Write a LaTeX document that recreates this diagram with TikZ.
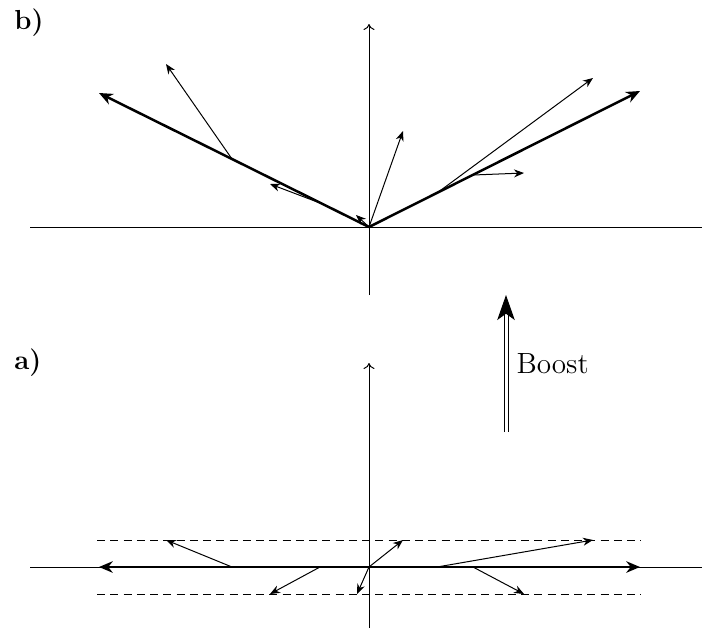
\documentclass[tikz,border=0pt]{standalone}
\usetikzlibrary{arrows.meta}
\begin{document}
\begin{tikzpicture}[x=0.4pt,y=-0.4pt,
  axisline/.style={line width=0.4pt,-{To[length=2.4pt,width=4.4pt]}},
  plainline/.style={line width=0.4pt},
  boldvec/.style={line width=1pt,-{Stealth[length=5.5pt,width=4.6pt]}},
  thinvec/.style={line width=0.4pt,-{Stealth[length=4pt,width=3.2pt]}},
  dashline/.style={line width=0.4pt,dash pattern=on 3.2pt off 2.1pt},
  boostarrow/.style={line width=0.4pt,double distance=1.2pt,-{Stealth[length=10pt,width=7pt,inset=2.5pt]}},
  lbl/.style={inner sep=0pt,font=\fontsize{11}{13}\selectfont}
]
\useasboundingbox (0,0) rectangle (702,629);
% ---------- panel b ----------
\node[lbl] (labb) at (29,23) {\textbf{b)}};
\coordinate (Ob) at (369,227);
\coordinate (bxl) at (30,227);
\coordinate (bxr) at (702,227);
\coordinate (byb) at (369,295);
\coordinate (byt) at (369,24);
\draw[plainline] (bxl) -- (bxr);
\draw[axisline] (byb) -- (byt);
\coordinate (bL) at (99,93);
\coordinate (bR) at (640,91);
\draw[boldvec] (Ob) -- (bL);
\draw[boldvec] (Ob) -- (bR);
\coordinate (b1s) at (232,159); \coordinate (b1e) at (166,64);
\coordinate (b2s) at (320,203); \coordinate (b2e) at (270,184);
\coordinate (b3e) at (356,215);
\coordinate (b4e) at (403,131);
\coordinate (b5s) at (437,193); \coordinate (b5e) at (593,78);
\coordinate (b6s) at (473,175); \coordinate (b6e) at (524,173);
\draw[thinvec] (b1s) -- (b1e);
\draw[thinvec] (b2s) -- (b2e);
\draw[thinvec] (Ob) -- (b3e);
\draw[thinvec] (Ob) -- (b4e);
\draw[thinvec] (b5s) -- (b5e);
\draw[thinvec] (b6s) -- (b6e);
% ---------- boost ----------
\coordinate (bst) at (506,432);
\coordinate (bsh) at (506,295);
\draw[boostarrow] (bst) -- (bsh);
\node[lbl,anchor=west,font=\fontsize{11.7}{14}\selectfont] (boost) at (516,364) {Boost};
% ---------- panel a ----------
\node[lbl] (laba) at (28,363) {\textbf{a)}};
\coordinate (Oa) at (369,567);
\coordinate (axl) at (30,567);
\coordinate (axr) at (702,567);
\coordinate (ayb) at (369,628);
\coordinate (ayt) at (369,363);
\draw[plainline] (axl) -- (axr);
\draw[axisline] (ayb) -- (ayt);
\coordinate (du1) at (97,540); \coordinate (du2) at (641,540);
\coordinate (dl1) at (97,594); \coordinate (dl2) at (641,594);
\draw[dashline] (du1) -- (du2);
\draw[dashline] (dl1) -- (dl2);
\coordinate (aL) at (99,567);
\coordinate (aR) at (640,567);
\draw[boldvec] (Oa) -- (aL);
\draw[boldvec] (Oa) -- (aR);
\coordinate (a1s) at (232,567); \coordinate (a1e) at (166,540);
\coordinate (a2s) at (320,567); \coordinate (a2e) at (270,594);
\coordinate (a3e) at (357,594);
\coordinate (a4e) at (403,540);
\coordinate (a5s) at (437,567); \coordinate (a5e) at (593,540);
\coordinate (a6s) at (473,567); \coordinate (a6e) at (524,594);
\draw[thinvec] (a1s) -- (a1e);
\draw[thinvec] (a2s) -- (a2e);
\draw[thinvec] (Oa) -- (a3e);
\draw[thinvec] (Oa) -- (a4e);
\draw[thinvec] (a5s) -- (a5e);
\draw[thinvec] (a6s) -- (a6e);
\end{tikzpicture}
\end{document}
